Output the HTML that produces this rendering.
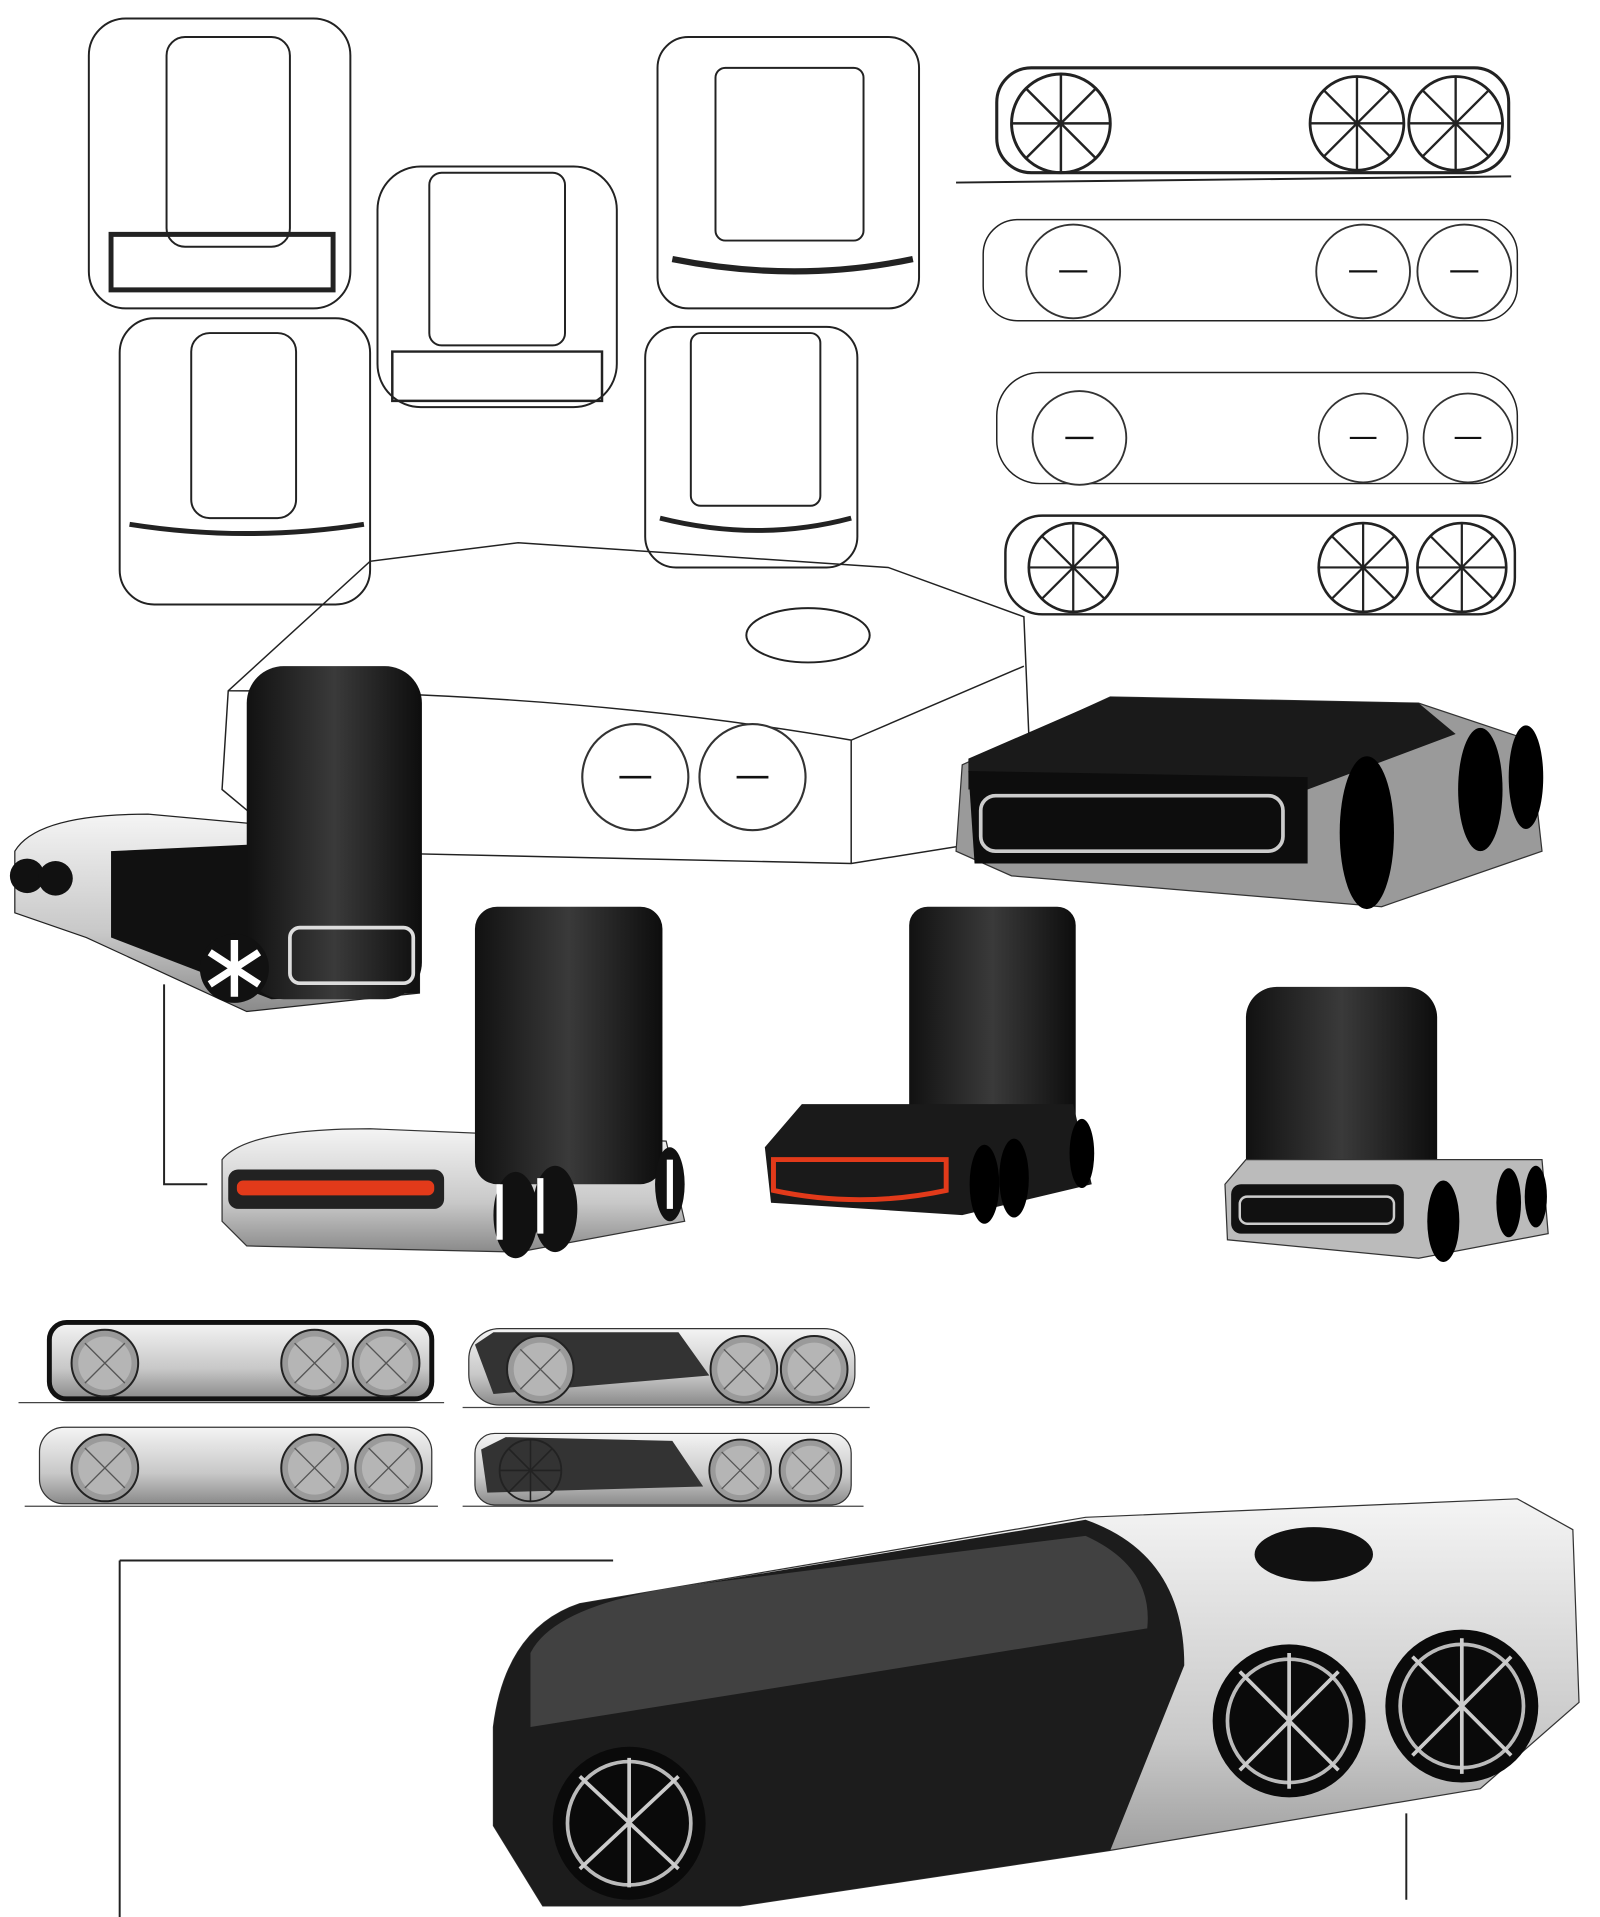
<!DOCTYPE html>
<html><head><meta charset="utf-8"><style>
html,body{margin:0;padding:0;background:#fff;width:1600px;height:1917px;overflow:hidden}
svg{display:block}
</style></head><body>
<svg width="1600" height="1917" viewBox="0 0 1297 1554" xmlns="http://www.w3.org/2000/svg">
<defs>
<linearGradient id="dk" x1="0" y1="0" x2="1" y2="0"><stop offset="0" stop-color="#111"/><stop offset=".5" stop-color="#3a3a3a"/><stop offset="1" stop-color="#0d0d0d"/></linearGradient>
<linearGradient id="gr" x1="0" y1="0" x2="0" y2="1"><stop offset="0" stop-color="#f4f4f4"/><stop offset=".6" stop-color="#c8c8c8"/><stop offset="1" stop-color="#8a8a8a"/></linearGradient>
<g id="xw"><circle r="1" fill="none" stroke="#222" stroke-width=".06"/><path d="M-.7-.7L.7.7M.7-.7L-.7.7M0-1V1M-1 0H1" stroke="#222" stroke-width=".05"/></g>
<g id="ow"><circle r="1" fill="#fff" stroke="#333" stroke-width=".04"/><path d="M-.3 0H.3" stroke="#111" stroke-width=".05"/></g>
<g id="gw"><circle r="1" fill="#9a9a9a" stroke="#222" stroke-width=".06"/><circle r=".8" fill="#b5b5b5"/><path d="M-.6-.6L.6.6M.6-.6L-.6.6" stroke="#555" stroke-width=".04"/></g>
</defs>
<g fill="none" stroke="#222" stroke-width="1.6">
<rect x="72" y="15" width="212" height="235" rx="30"/><rect x="135" y="30" width="100" height="170" rx="15"/><path d="M90 190h180v45H90z" stroke-width="4"/>
<rect x="97" y="258" width="203" height="232" rx="28"/><rect x="155" y="270" width="85" height="150" rx="15"/><path d="M105 425q95 15 190 0" stroke-width="4"/>
<rect x="306" y="135" width="194" height="195" rx="35"/><rect x="348" y="140" width="110" height="140" rx="10"/><path d="M318 285h170v40H318z" stroke-width="2"/>
<rect x="533" y="30" width="212" height="220" rx="25"/><rect x="580" y="55" width="120" height="140" rx="8"/><path d="M545 210q100 20 195 0" stroke-width="5"/>
<rect x="523" y="265" width="172" height="195" rx="25"/><rect x="560" y="270" width="105" height="140" rx="8"/><path d="M535 420q80 20 155 0" stroke-width="4"/>
<rect x="808" y="55" width="415" height="85" rx="28" stroke-width="2.5"/><line x1="775" y1="148" x2="1225" y2="143"/>
<rect x="797" y="178" width="433" height="82" rx="28" stroke-width="1.2"/>
<rect x="808" y="302" width="422" height="90" rx="35" stroke-width="1.2"/>
<rect x="815" y="418" width="413" height="80" rx="30" stroke-width="2"/>
<path d="M185 560L300 455 420 440 720 460 830 500 835 620 815 680 690 700 240 690 180 640Z" stroke-width="1.2"/>
<path d="M185 560Q460 560 690 600L830 540M690 600L690 700" stroke-width="1.2"/>
<ellipse cx="655" cy="515" rx="50" ry="22"/>
<path d="M133 798v162h35M97 1265h400M97 1265v290M1140 1470v70"/>
</g>
<use href="#xw" transform="translate(860,100) scale(40)"/><use href="#xw" transform="translate(1100,100) scale(38)"/><use href="#xw" transform="translate(1180,100) scale(38)"/>
<use href="#ow" transform="translate(870,220) scale(38)"/><use href="#ow" transform="translate(1105,220) scale(38)"/><use href="#ow" transform="translate(1187,220) scale(38)"/>
<use href="#ow" transform="translate(875,355) scale(38)"/><use href="#ow" transform="translate(1105,355) scale(36)"/><use href="#ow" transform="translate(1190,355) scale(36)"/>
<use href="#xw" transform="translate(870,460) scale(36)"/><use href="#xw" transform="translate(1105,460) scale(36)"/><use href="#xw" transform="translate(1185,460) scale(36)"/>
<use href="#ow" transform="translate(515,630) scale(43)"/><use href="#ow" transform="translate(610,630) scale(43)"/>
<path d="M12 690Q30 660 120 660L340 680 340 805 200 820 70 760 12 740Z" fill="url(#gr)" stroke="#222"/>
<path d="M90 690L300 680 340 700 340 805 220 810 90 760Z" fill="#111"/>
<rect x="200" y="540" width="142" height="270" rx="30" fill="url(#dk)"/>
<rect x="235" y="752" width="100" height="45" rx="8" fill="none" stroke="#ddd" stroke-width="3"/>
<circle cx="190" cy="785" r="28" fill="#111"/>
<path d="M190 762v46M170 772l40 26M170 798l40-26" stroke="#fff" stroke-width="6"/>
<circle cx="22" cy="710" r="14" fill="#111"/><circle cx="45" cy="712" r="14" fill="#111"/>
<path d="M780 620L900 565 1150 570 1240 600 1250 690 1120 735 820 710 775 690Z" fill="#9a9a9a" stroke="#333"/>
<path d="M785 615L900 565 1150 570 1180 595 1060 640 785 640Z" fill="#1a1a1a"/>
<path d="M785 625L1060 630 1060 700 790 700Z" fill="#0d0d0d"/>
<rect x="795" y="645" width="245" height="45" rx="12" fill="none" stroke="#ccc" stroke-width="3"/>
<ellipse cx="1108" cy="675" rx="22" ry="62" fill="#000"/><ellipse cx="1200" cy="640" rx="18" ry="50" fill="#000"/><ellipse cx="1237" cy="630" rx="14" ry="42" fill="#000"/>
<path d="M180 940Q200 915 300 915L540 925 555 990 420 1015 200 1010 180 990Z" fill="url(#gr)" stroke="#333"/>
<rect x="385" y="735" width="152" height="225" rx="18" fill="url(#dk)"/>
<rect x="185" y="948" width="175" height="32" rx="8" fill="#222"/><rect x="192" y="957" width="160" height="12" rx="5" fill="#e23a1a"/>
<ellipse cx="418" cy="985" rx="18" ry="35" fill="#111"/><ellipse cx="450" cy="980" rx="18" ry="35" fill="#111"/><ellipse cx="543" cy="960" rx="12" ry="30" fill="#111"/>
<path d="M405 960v45M438 955v45M543 940v40" stroke="#fff" stroke-width="5"/>
<rect x="737" y="735" width="135" height="200" rx="15" fill="url(#dk)"/>
<path d="M620 930L650 895 870 895 885 960 780 985 625 975Z" fill="#1a1a1a"/>
<path d="M627 940h140v25q-70 15-140 0Z" fill="none" stroke="#e23a1a" stroke-width="4"/>
<ellipse cx="798" cy="960" rx="12" ry="32" fill="#000"/><ellipse cx="822" cy="955" rx="12" ry="32" fill="#000"/><ellipse cx="877" cy="935" rx="10" ry="28" fill="#000"/>
<rect x="1010" y="800" width="155" height="190" rx="25" fill="url(#dk)"/>
<path d="M993 960L1010 940 1250 940 1255 1000 1150 1020 995 1005Z" fill="#bbb" stroke="#333"/>
<rect x="998" y="960" width="140" height="40" rx="8" fill="#111"/><rect x="1005" y="970" width="125" height="22" rx="6" fill="none" stroke="#ccc" stroke-width="2"/>
<ellipse cx="1170" cy="990" rx="13" ry="33" fill="#000"/><ellipse cx="1223" cy="975" rx="10" ry="28" fill="#000"/><ellipse cx="1245" cy="970" rx="9" ry="25" fill="#000"/>
<rect x="40" y="1072" width="310" height="62" rx="14" fill="url(#gr)" stroke="#111" stroke-width="4"/>
<rect x="380" y="1077" width="313" height="62" rx="25" fill="url(#gr)" stroke="#333"/><path d="M385 1090L400 1080 550 1080 575 1115 400 1130Z" fill="#333"/>
<rect x="32" y="1157" width="318" height="62" rx="20" fill="url(#gr)" stroke="#333"/>
<rect x="385" y="1162" width="305" height="58" rx="16" fill="url(#gr)" stroke="#333"/><path d="M390 1175L410 1165 545 1168 570 1205 395 1210Z" fill="#333"/>
<line x1="15" y1="1137" x2="360" y2="1137" stroke="#444"/><line x1="375" y1="1141" x2="705" y2="1141" stroke="#444"/><line x1="20" y1="1221" x2="355" y2="1221" stroke="#444"/><line x1="375" y1="1221" x2="700" y2="1221" stroke="#444"/>
<use href="#gw" transform="translate(85,1105) scale(27)"/><use href="#gw" transform="translate(255,1105) scale(27)"/><use href="#gw" transform="translate(313,1105) scale(27)"/>
<use href="#gw" transform="translate(438,1110) scale(27)"/><use href="#gw" transform="translate(603,1110) scale(27)"/><use href="#gw" transform="translate(660,1110) scale(27)"/>
<use href="#gw" transform="translate(85,1190) scale(27)"/><use href="#gw" transform="translate(255,1190) scale(27)"/><use href="#gw" transform="translate(315,1190) scale(27)"/>
<use href="#xw" transform="translate(430,1192) scale(25)"/><use href="#gw" transform="translate(600,1192) scale(25)"/><use href="#gw" transform="translate(657,1192) scale(25)"/>
<path d="M400 1400Q410 1320 470 1300L880 1230 1230 1215 1275 1240 1280 1380 1200 1450 900 1500 600 1545 440 1545 400 1480Z" fill="url(#gr)" stroke="#333"/>
<path d="M400 1400Q410 1320 470 1300L880 1232Q960 1260 960 1350L900 1500 600 1545 440 1545 400 1480Z" fill="#1c1c1c"/>
<path d="M430 1340Q450 1300 560 1285L880 1245Q935 1270 930 1320L430 1400Z" fill="#5a5a5a" opacity=".6"/>
<ellipse cx="1065" cy="1260" rx="48" ry="22" fill="#111"/>
<circle cx="510" cy="1478" r="62" fill="#0a0a0a"/><circle cx="510" cy="1478" r="50" fill="none" stroke="#bbb" stroke-width="3"/><path d="M470 1440L550 1515M550 1440L470 1515M510 1425V1530" stroke="#ccc" stroke-width="3"/>
<circle cx="1045" cy="1395" r="62" fill="#0a0a0a"/><circle cx="1045" cy="1395" r="50" fill="none" stroke="#bbb" stroke-width="3"/><path d="M1005 1355L1085 1435M1085 1355L1005 1435M1045 1340V1450" stroke="#ccc" stroke-width="3"/>
<circle cx="1185" cy="1383" r="62" fill="#0a0a0a"/><circle cx="1185" cy="1383" r="50" fill="none" stroke="#bbb" stroke-width="3"/><path d="M1145 1343L1225 1423M1225 1343L1145 1423M1185 1328V1438" stroke="#ccc" stroke-width="3"/>
</svg>
</body></html>
